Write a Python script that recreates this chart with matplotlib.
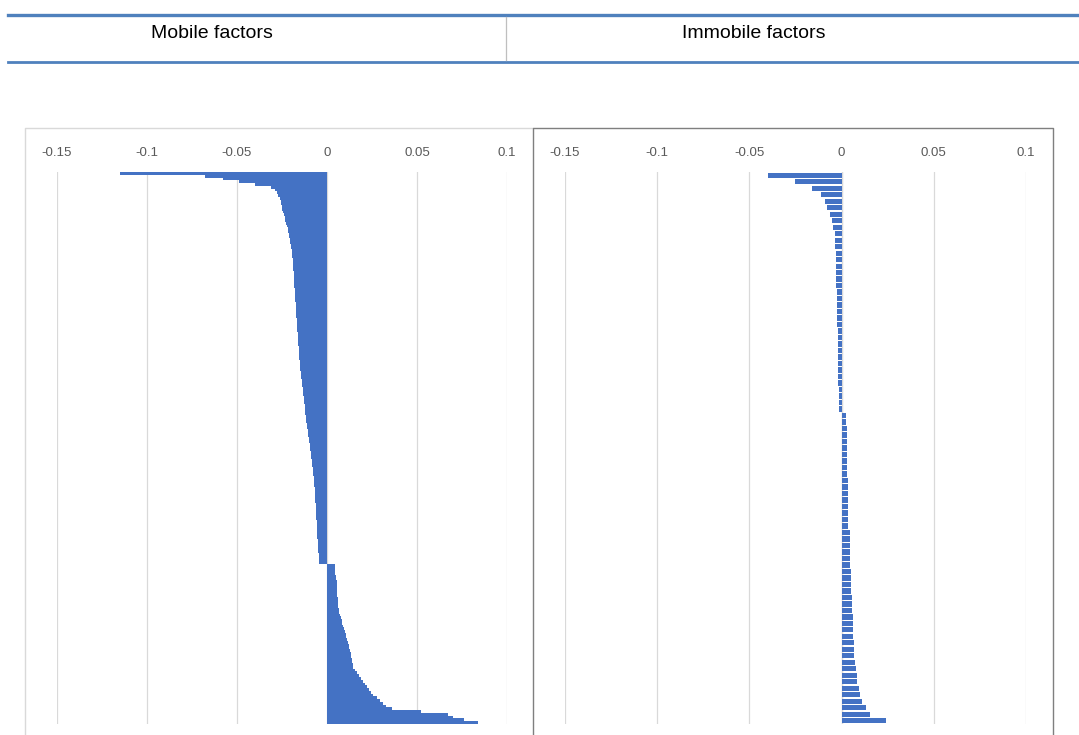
import matplotlib
matplotlib.use('Agg')
import matplotlib.pyplot as plt
from matplotlib.lines import Line2D
import numpy as np

plt.rcParams['font.family'] = ['Liberation Sans', 'DejaVu Sans']

# header labels
headers = ['Mobile factors', 'Immobile factors']

# shared axis ticks
tick_vals = [-0.15, -0.1, -0.05, 0, 0.05, 0.1]
tick_labels = ['-0.15', '-0.1', '-0.05', '0', '0.05', '0.1']

# mobile factors, sorted from top to bottom
mobile = [
    -0.115, -0.068, -0.058, -0.049, -0.040, -0.031, -0.029, -0.028, -0.027, -0.026,
    -0.0258, -0.0255, -0.0252, -0.0248, -0.0244, -0.0240, -0.0236, -0.0232, -0.0228, -0.0224,
    -0.0218, -0.0215, -0.0212, -0.0209, -0.0206, -0.0204, -0.0202, -0.0200, -0.0197, -0.0195,
    -0.0193, -0.0191, -0.0190, -0.0189, -0.0188, -0.0187, -0.0186, -0.0185, -0.0184, -0.0183,
    -0.0182, -0.0181, -0.0180, -0.0179, -0.0178, -0.0177, -0.0176, -0.0175, -0.0174, -0.0173,
    -0.0172, -0.0171, -0.0170, -0.0168, -0.0167, -0.0166, -0.0165, -0.0164, -0.0163, -0.0162,
    -0.0161, -0.0160, -0.0159, -0.0158, -0.0157, -0.0156, -0.0155, -0.0154, -0.0152, -0.0151,
    -0.0150, -0.0148, -0.0146, -0.0144, -0.0142, -0.0140, -0.0138, -0.0137, -0.0135, -0.0134,
    -0.0132, -0.0130, -0.0128, -0.0127, -0.0125, -0.0123, -0.0121, -0.0120, -0.0118, -0.0116,
    -0.0114, -0.0112, -0.0110, -0.0108, -0.0106, -0.0104, -0.0101, -0.0099, -0.0097, -0.0095,
    -0.0093, -0.0091, -0.0089, -0.0087, -0.0085, -0.0083, -0.0081, -0.0079, -0.0077, -0.0076,
    -0.0074, -0.0073, -0.0072, -0.0070, -0.0069, -0.0068, -0.0067, -0.0066, -0.0065, -0.0064,
    -0.0063, -0.0062, -0.0061, -0.0061, -0.0060, -0.0059, -0.0058, -0.0058, -0.0057, -0.0056,
    -0.0055, -0.0054, -0.0053, -0.0052, -0.0051, -0.0050, -0.0049, -0.0048, -0.0047, -0.0046,
    -0.0045, -0.0044, 0.0044, 0.0045, 0.0046, 0.0047, 0.0049, 0.0051, 0.0053, 0.0054,
    0.0055, 0.0056, 0.0057, 0.0058, 0.0059, 0.0059, 0.0060, 0.0061, 0.0064, 0.0067,
    0.0070, 0.0076, 0.0081, 0.0086, 0.0090, 0.0095, 0.0099, 0.0103, 0.0108, 0.0112,
    0.0116, 0.0120, 0.0124, 0.0128, 0.0131, 0.0134, 0.0137, 0.0140, 0.0143, 0.0146,
    0.0155, 0.0166, 0.0178, 0.0190, 0.0200, 0.0211, 0.0220, 0.0232, 0.0244, 0.0256,
    0.0275, 0.0294, 0.0312, 0.0330, 0.0360, 0.0520, 0.0670, 0.0700, 0.0760, 0.0840,
]

# immobile factors, sorted from top to bottom
immobile = [
    -0.040, -0.025, -0.016, -0.011, -0.0090, -0.0078, -0.0065, -0.0054, -0.0045, -0.0038,
    -0.0038, -0.0036, -0.0033, -0.0033, -0.0033, -0.0029, -0.0029, -0.0028, -0.0024, -0.0024,
    -0.0026, -0.0026, -0.0026, -0.0027, -0.0018, -0.0018, -0.0018, -0.0018, -0.0018, -0.0018,
    -0.0018, -0.0018, -0.0018, -0.0015, -0.0012, -0.0012, -0.0012, 0.0025, 0.0022, 0.0030,
    0.0030, 0.0030, 0.0030, 0.0030, 0.0030, 0.0030, 0.0030, 0.0036, 0.0036, 0.0036,
    0.0036, 0.0036, 0.0036, 0.0036, 0.0035, 0.0044, 0.0044, 0.0044, 0.0044, 0.0044,
    0.0044, 0.0049, 0.0049, 0.0049, 0.0052, 0.0055, 0.0055, 0.0055, 0.0062, 0.0062,
    0.0062, 0.0062, 0.0067, 0.0069, 0.0069, 0.0074, 0.0076, 0.0082, 0.0085, 0.0094,
    0.0100, 0.0109, 0.0130, 0.0154, 0.0240,
]

W, H = 1079, 735
BLUE = '#4472C4'
fig = plt.figure(figsize=(W / 100, H / 100), dpi=100)


def fx(x):
    return x / W


def fy(y):
    return 1 - y / H


def fig_line(xs, ys, **kw):
    fig.add_artist(Line2D([fx(v) for v in xs], [fy(v) for v in ys],
                          transform=fig.transFigure, **kw))


# table-like header
fig_line([8, W], [15, 15], color='#4F81BD', linewidth=2.4)
fig_line([8, W], [61.5, 61.5], color='#4F81BD', linewidth=2.0)
fig_line([506, 506], [17, 60], color='#BFBFBF', linewidth=0.9)
fig.text(fx(212), fy(33), headers[0], ha='center', va='center', fontsize=14)
fig.text(fx(754), fy(33), headers[1], ha='center', va='center', fontsize=14)

# panel frames
fig_line([25, 25, 533], [740, 128, 128], color='#D9D9D9', linewidth=1.0)
fig_line([533, 533, 1053, 1053], [740, 128, 128, 740], color='#7F7F7F', linewidth=1.0)


def make_panel(left_px, right_px, values, bar_h, zero_line):
    ax = fig.add_axes([fx(left_px), fy(724), fx(right_px) - fx(left_px), fy(172) - fy(724)])
    n = len(values)
    ax.barh(np.arange(n), values, height=bar_h, color=BLUE, linewidth=0, zorder=3)
    ax.set_xlim(-0.15, 0.1)
    ax.set_ylim(n - 0.5, -0.5)
    ax.set_xticks(tick_vals)
    ax.set_xticklabels(tick_labels)
    ax.xaxis.tick_top()
    ax.tick_params(axis='x', length=0, pad=9.5, labelsize=9.5, labelcolor='#595959')
    ax.set_yticks([])
    ax.grid(axis='x', color='#D9D9D9', linewidth=0.9)
    ax.set_axisbelow(True)
    for s in ax.spines.values():
        s.set_visible(False)
    if zero_line:
        ax.axvline(0, color='#D9D9D9', linewidth=0.9, zorder=1)
    ax.patch.set_alpha(0)
    return ax


make_panel(57, 507, mobile, 1.05, False)
make_panel(565, 1026, immobile, 0.82, True)

fig.savefig('out.png', dpi=100)
